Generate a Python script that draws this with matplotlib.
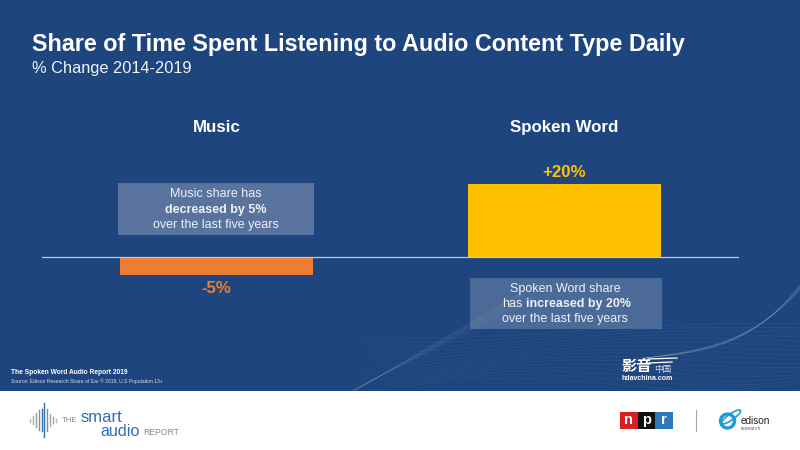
import numpy as np
import matplotlib
matplotlib.use('Agg')
import matplotlib.pyplot as plt
from matplotlib.collections import LineCollection
from matplotlib.patches import Rectangle, Circle, Ellipse

categories = ['Music', 'Spoken Word']
change = [-5, 20]
labels = ['-5%', '+20%']
colors = ['#ED7D31', '#FFC000']

BG = '#1F457E'
CJK = ['Noto Sans CJK SC', 'DejaVu Sans']
plt.rcParams['font.family'] = ['Liberation Sans', 'DejaVu Sans']

fig = plt.figure(figsize=(8, 4.5), dpi=100, facecolor='white')

# page layer, in pixels
page = fig.add_axes([0, 0, 1, 1], zorder=0)
page.set_xlim(0, 800)
page.set_ylim(450, 0)
page.axis('off')
page.add_patch(Rectangle((0, 0), 800, 391, fc=BG, ec='none'))


def faded_line(xv, yv, alpha, lw=0.4):
    # line that fades in from its left end
    pts = np.column_stack([xv, yv])
    segs = np.stack([pts[:-1], pts[1:]], axis=1)
    fade = np.clip((xv[:-1] - xv[0]) / 90, 0, 1) * alpha
    rgba = np.ones((len(segs), 4))
    rgba[:, 3] = fade
    page.add_collection(LineCollection(segs, colors=rgba, linewidths=lw))


# background swooshes: faint waves first, then the two brighter bands
xs = np.linspace(335, 800, 200)
for k in range(16):
    ys = 338 + k * 3.6 + (3 + k * 0.4) * np.sin((xs - 340) / 75 + k * 0.18) - (xs - 340) * 0.03
    faded_line(xs, np.minimum(ys, 390.5), 0.08, 0.35)
for k in range(8):
    xb = np.linspace(353, 520, 60)
    ys = 390 - (xb - 353) * (0.50 + k * 0.012) + k * 0.2
    page.plot(xb, ys, color='white', lw=0.4, alpha=0.06 + k * 0.007)
for k in range(9):
    t = np.linspace(0, 1, 80)
    xb = 645 + 155 * t
    ys = 358 - 22 * t - (46 + k * 1.6) * t ** 3.2 + k * 0.9 * t
    page.plot(xb, ys, color='white', lw=0.4, alpha=0.10)

# chart
ax = fig.add_axes([42 / 800, (450 - 275) / 450, 697 / 800, (275 - 184) / 450], zorder=1)
ax.patch.set_alpha(0)
x = np.arange(len(categories))
ax.bar(x, change, width=0.555, color=colors)
ax.axhline(0, color='#C0C6D0', lw=0.9)
ax.set_xlim(-0.5014, 1.5014)
ax.set_ylim(-5, 20)
ax.axis('off')

for i in range(len(categories)):
    ax.annotate(categories[i], (x[i], 20), xytext=(0, 35.5), textcoords='offset points',
                ha='center', va='bottom', color='white', fontsize=12.2, fontweight='bold')
    if change[i] > 0:
        ax.annotate(labels[i], (x[i], change[i]), xytext=(0, 3.2), textcoords='offset points',
                    ha='center', va='bottom', color=colors[1], fontsize=12.2, fontweight='bold')
    else:
        ax.annotate(labels[i], (x[i], change[i]), xytext=(0, -4.3), textcoords='offset points',
                    ha='center', va='top', color=colors[0], fontsize=12.2, fontweight='bold')

# callout boxes
page.add_patch(Rectangle((118, 183), 196, 52, fc='white', alpha=0.25, ec='none'))
page.add_patch(Rectangle((470, 278), 192, 51, fc='white', alpha=0.2, ec='none'))

txt = dict(va='center', color='#EEF1F6', fontsize=9)
page.text(216, 194, 'Music share has', ha='center', **txt)
page.text(216, 209.5, 'decreased by 5%', ha='center', fontweight='bold', **txt)
page.text(216, 225, 'over the last five years', ha='center', **txt)
page.text(565, 289, 'Spoken Word share', ha='center', **txt)
page.text(502, 304, 'has', ha='left', **txt)
page.text(526, 304, 'increased by 20%', ha='left', fontweight='bold', **txt)
page.text(565, 319, 'over the last five years', ha='center', **txt)

# titles
page.text(32, 44, 'Share of Time Spent Listening to Audio Content Type Daily',
          color='white', fontsize=16.8, fontweight='bold', va='center')
page.text(32, 68, '% Change 2014-2019', color='#F2F4F8', fontsize=11.8, va='center')
page.text(11, 372, 'The Spoken Word Audio Report 2019', color='white', fontsize=4.8,
          fontweight='bold', va='center')
page.text(11, 381.5, 'Source: Edison Research Share of Ear ® 2019, U.S Population 13+',
          color='#D5DCE8', fontsize=3.6, va='center')

# watermark
page.text(621, 365.5, '影音', color='white', fontsize=11, fontweight='bold', style='italic',
          family=CJK, va='center')
page.text(654, 369.5, '中国', color='#DDE3EE', fontsize=6.2, family=CJK, va='center')
page.text(621, 378, 'hdavchina.com', color='white', fontsize=5, fontweight='bold', va='center')
page.plot([648, 677], [359, 358], color='white', lw=0.9)
page.plot([648, 672], [363, 362], color='white', lw=0.9)

# smart audio logo
bars_x = [30, 33, 36, 39, 42, 44, 47, 50, 53, 55.5]
bars_h = [1.5, 4, 7, 10, 11, 17, 11, 6, 3, 1.5]
bars_c = ['#B5B5B5', '#A8A8A8', '#9A9A9A', '#8C8C8C', '#2E6DB4', '#2E6DB4',
          '#8C8C8C', '#9AA8BC', '#A8A8A8', '#B5B5B5']
for bx, bh, bc in zip(bars_x, bars_h, bars_c):
    page.plot([bx, bx], [420 - bh, 420 + bh], color=bc, lw=1.0)
page.text(62, 420.5, 'THE', color='#8A8A8A', fontsize=5.6, va='center')
page.text(80.5, 417.5, 'smart', color='#2E6DB4', fontsize=12, va='center')
page.text(100, 431.5, 'audio', color='#2E6DB4', fontsize=11.6, va='center')
page.text(143, 432.5, 'REPORT', color='#8A8A8A', fontsize=6.2, va='center')

# npr logo
for nx, nc, nl in zip([620, 637.5, 655], ['#D62021', '#111111', '#2D77BD'], ['n', 'p', 'r']):
    page.add_patch(Rectangle((nx, 412), 17.5, 17, fc=nc, ec='none'))
    page.text(nx + 8.7, 420, nl, color='white', fontsize=10.5, fontweight='bold',
              ha='center', va='center')
page.plot([695.5, 695.5], [410, 431], color='#A5A5A5', lw=0.8)

# edison logo
page.add_patch(Circle((727.5, 421), 7, fc='none', ec='#1E9BD7', lw=2.4))
page.add_patch(Ellipse((731, 417), 23, 6, angle=-35, fc='none', ec='#1E9BD7', lw=1.2))
page.text(741, 421.5, 'edison', color='#222222', fontsize=7.2, va='center')
page.text(741, 429, 'research', color='#666666', fontsize=3.8, va='center')

fig.savefig('out.png', dpi=100)
